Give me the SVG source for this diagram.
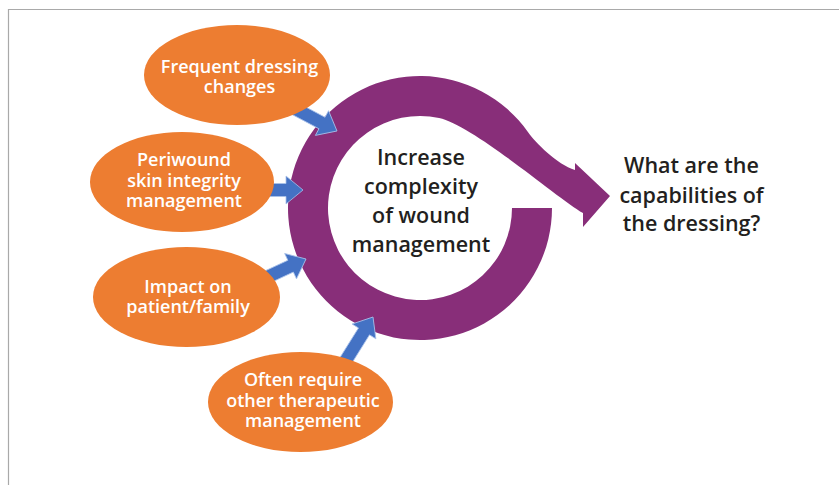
<svg xmlns="http://www.w3.org/2000/svg" width="839" height="485" viewBox="0 0 839 485">
  <style>
    .frame { fill: none; stroke: #a9a9a9; stroke-width: 1.2; }
    .ring { fill: #882e79; }
    .feed { fill: #4472c4; stroke: #a9c1ea; stroke-width: 0.8; }
    .bubble { fill: #ed7d31; }
    .lbl { font-family: "Open Sans", "Liberation Sans", sans-serif; font-weight: 600; text-anchor: middle; }
    .w { fill: #ffffff; font-size: 18px; }
    .d { fill: #231f20; font-size: 21.5px; }
  </style>
  <defs>
    <!-- block arrow, tip at origin, pointing along +x -->
    <path id="blockArrow" d="M0,0 L-17,-14 L-17,-6.5 L-56,-6.5 L-56,6.5 L-17,6.5 L-17,14 Z"/>
  </defs>

  <path class="frame" d="M8.5,485 V9.5 H839"/>

  <!-- central cycle arrow -->
  <g id="cycle">
    <path class="ring" d="M512,208 L552,208 A132,132 0 1 1 528.1,132.3 C535,142.1 557,164.6 575,170 L575,163 L610,196 L583,227 L583,213 C557,198 473.2,125.3 439.1,118 A92,92 0 1 0 512,208 Z"/>
    <text class="lbl d" x="421" y="165">Increase</text>
    <text class="lbl d" x="421" y="194">complexity</text>
    <text class="lbl d" x="421" y="223">of wound</text>
    <text class="lbl d" x="421" y="252">management</text>
  </g>

  <g id="connectors">
    <use href="#blockArrow" class="feed" transform="translate(337,131) rotate(28)"/>
    <use href="#blockArrow" class="feed" transform="translate(303,190)"/>
    <use href="#blockArrow" class="feed" transform="translate(306,259) rotate(-25)"/>
    <use href="#blockArrow" class="feed" transform="translate(373,317) rotate(-58)"/>
  </g>

  <g id="frequent-dressing">
    <ellipse class="bubble" cx="237" cy="75" rx="93" ry="50"/>
    <text class="lbl w" x="239.5" y="72.7">Frequent dressing</text>
    <text class="lbl w" x="239.5" y="93.3">changes</text>
  </g>

  <g id="periwound">
    <ellipse class="bubble" cx="182" cy="182" rx="92" ry="50"/>
    <text class="lbl w" x="184" y="166">Periwound</text>
    <text class="lbl w" x="184" y="186.5">skin integrity</text>
    <text class="lbl w" x="184" y="206.5">management</text>
  </g>

  <g id="impact">
    <ellipse class="bubble" cx="186.5" cy="297" rx="93.5" ry="50"/>
    <text class="lbl w" x="188" y="292.7">Impact on</text>
    <text class="lbl w" x="188" y="312.7">patient/family</text>
  </g>

  <g id="other-therapy">
    <ellipse class="bubble" cx="300.5" cy="402" rx="92.5" ry="50"/>
    <text class="lbl w" x="303" y="386">Often require</text>
    <text class="lbl w" x="303" y="406.5">other therapeutic</text>
    <text class="lbl w" x="303" y="426.5">management</text>
  </g>

  <g id="capabilities">
    <text class="lbl d" x="691.5" y="173.3">What are the</text>
    <text class="lbl d" x="691.5" y="202.5">capabilities of</text>
    <text class="lbl d" x="691.5" y="230.5">the dressing?</text>
  </g>
</svg>
